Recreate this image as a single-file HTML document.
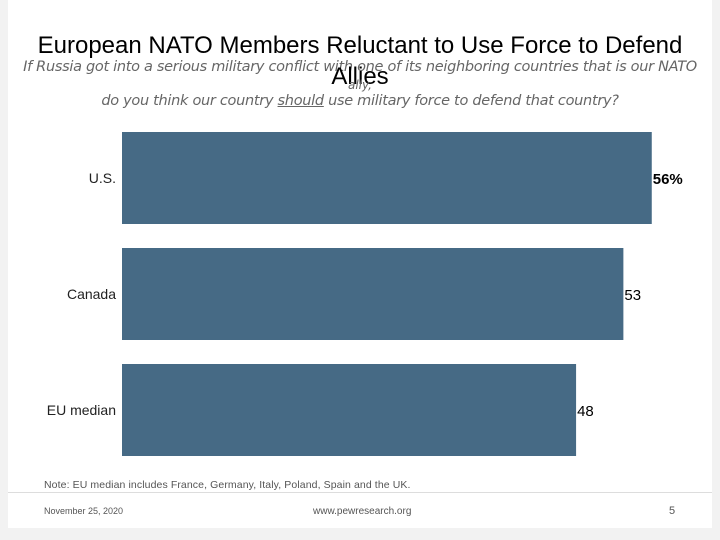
<!DOCTYPE html>
<html><head><meta charset="utf-8"><style>
body{margin:0;width:720px;height:540px;background:#f2f2f2;font-family:"Liberation Sans",sans-serif;position:relative;overflow:hidden}
.card{position:absolute;left:8px;top:0;width:704px;height:528px;background:#fff}
.t{position:absolute;white-space:nowrap}
</style></head><body>
<div class="card"></div>
<div class="t" style="left:0;width:720px;text-align:center;top:32px;font-size:24px;color:#000">European NATO Members Reluctant to Use Force to Defend</div>
<div class="t" style="left:0;width:720px;text-align:center;top:59px;font-size:14.5px;font-style:italic;color:#666;font-family:'DejaVu Sans',sans-serif;letter-spacing:-0.3px">If Russia got into a serious military conflict with one of its neighboring countries that is our NATO</div>
<div class="t" style="left:0;width:720px;text-align:center;top:63px;font-size:24px;color:#000">Allies</div>
<div class="t" style="left:0;width:720px;text-align:center;top:78px;font-size:12px;font-style:italic;color:#666;font-family:'DejaVu Sans',sans-serif">ally,</div>
<div class="t" style="left:0;width:720px;text-align:center;top:93px;font-size:14.5px;font-style:italic;color:#666;font-family:'DejaVu Sans',sans-serif;letter-spacing:-0.3px">do you think our country <u>should</u> use military force to defend that country?</div>
<svg id="chart" width="720" height="540" style="position:absolute;left:0;top:0"></svg>
<div class="t" style="left:44px;top:479px;font-size:10.5px;color:#555;letter-spacing:0.1px">Note: EU median includes France, Germany, Italy, Poland, Spain and the UK.</div>
<div style="position:absolute;left:8px;top:492px;width:704px;height:1px;background:#ddd"></div>
<div class="t" style="left:44px;top:506px;font-size:9px;color:#555">November 25, 2020</div>
<div class="t" style="left:313px;top:506px;font-size:10px;color:#555">www.pewresearch.org</div>
<div class="t" style="left:669px;top:505px;font-size:11px;color:#555">5</div>
<script>
const categories=["U.S.","Canada","EU median"];
const values=[56,53,48];
const valueLabels=["56%","53","48"];
const svg=document.getElementById('chart');
const NS='http://www.w3.org/2000/svg';
const x0=122,scale=9.46;
function xPos(v){return x0+v*scale;}
function yPos(i){return 132+i*116;}
const bh=92;
categories.forEach((c,i)=>{
 const r=document.createElementNS(NS,'rect');
 r.setAttribute('x',x0);r.setAttribute('y',yPos(i));
 r.setAttribute('width',xPos(values[i])-x0);r.setAttribute('height',bh);
 r.setAttribute('fill','#466a85');
 
 
 svg.appendChild(r);
 const l=document.createElementNS(NS,'text');
 l.setAttribute('x',116);l.setAttribute('y',yPos(i)+bh/2+5);
 l.setAttribute('text-anchor','end');l.setAttribute('font-size','14');
 l.setAttribute('fill','#222');
 l.setAttribute('font-family','Liberation Sans, sans-serif');
 l.textContent=c;
 
 
 svg.appendChild(l);
 const v=document.createElementNS(NS,'text');
 v.setAttribute('x',xPos(values[i])+1);v.setAttribute('y',yPos(i)+bh/2+6);
 v.setAttribute('font-size','15');
 v.setAttribute('font-weight',i===0?'bold':'normal');
 v.setAttribute('font-family','Liberation Sans, sans-serif');
 v.textContent=valueLabels[i];
 
 
 svg.appendChild(v);
});
</script>
</body></html>
